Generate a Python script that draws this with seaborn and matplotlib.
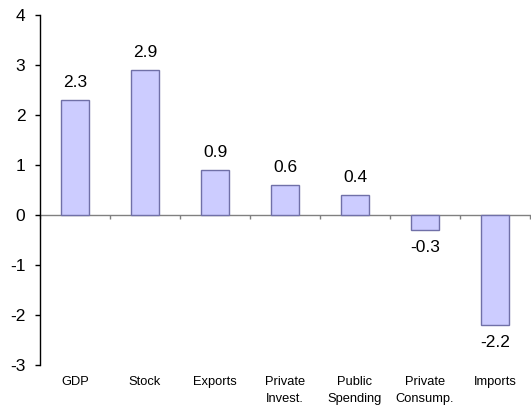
import matplotlib
matplotlib.use("Agg")
import matplotlib.pyplot as plt
import seaborn as sns
import pandas as pd
import numpy as np

categories = ["GDP", "Stock", "Exports", "Private\nInvest.", "Public\nSpending", "Private\nConsump.", "Imports"]
values = [2.3, 2.9, 0.9, 0.6, 0.4, -0.3, -2.2]
yticks = [-3, -2, -1, 0, 1, 2, 3, 4]

df = pd.DataFrame({"cat": categories, "val": values})

sns.set_theme(style="white")
plt.rcParams["font.family"] = ["Liberation Sans", "DejaVu Sans"]
plt.rcParams["text.color"] = "black"
plt.rcParams["xtick.labelcolor"] = "black"
plt.rcParams["ytick.labelcolor"] = "black"

fig = plt.figure(figsize=(5.31, 4.11), dpi=100)
ax = fig.add_axes([40/531, 1-365/411, 490/531, 350/411])

sns.barplot(data=df, x="cat", y="val", ax=ax, width=0.4,
            color="#CCCCFF", edgecolor="#7070A8", linewidth=1.0, saturation=1)

ax.set_xlim(-0.5, len(categories) - 0.5)
ax.set_ylim(-3, 4)
ax.set_yticks(yticks)
ax.set_yticklabels([str(t) for t in yticks], fontsize=12.5, color="black")
ax.tick_params(axis="y", which="major", direction="out", length=3.6, width=1, color="black", left=True, pad=7)
ax.set_xlabel("")
ax.set_ylabel("")
ax.tick_params(axis="x", length=0, labelsize=9.3, pad=8, labelcolor="black")
for lab in ax.get_xticklabels():
    lab.set_verticalalignment("top")
    lab.set_linespacing(1.55)

for s in ["top", "right", "bottom"]:
    ax.spines[s].set_visible(False)
ax.spines["left"].set_color("black")
ax.spines["left"].set_linewidth(1)

# zero line with category-boundary ticks
sec = ax.secondary_xaxis(3/7)
sec.spines["bottom"].set_color("#808080")
sec.spines["bottom"].set_linewidth(1)
sec.set_xticks(np.arange(-0.5, len(categories), 1.0))
sec.set_xticklabels([])
sec.tick_params(axis="x", direction="out", length=3, width=1, color="#808080")

# value labels
for i, v in enumerate(values):
    if v >= 0:
        ax.annotate(f"{v:.1f}", (i, v), xytext=(0, 7), textcoords="offset points",
                    ha="center", va="bottom", fontsize=12.5, color="black")
    else:
        ax.annotate(f"{v:.1f}", (i, v), xytext=(0, -7), textcoords="offset points",
                    ha="center", va="top", fontsize=12.5, color="black")

fig.savefig("out.png", dpi=100)
